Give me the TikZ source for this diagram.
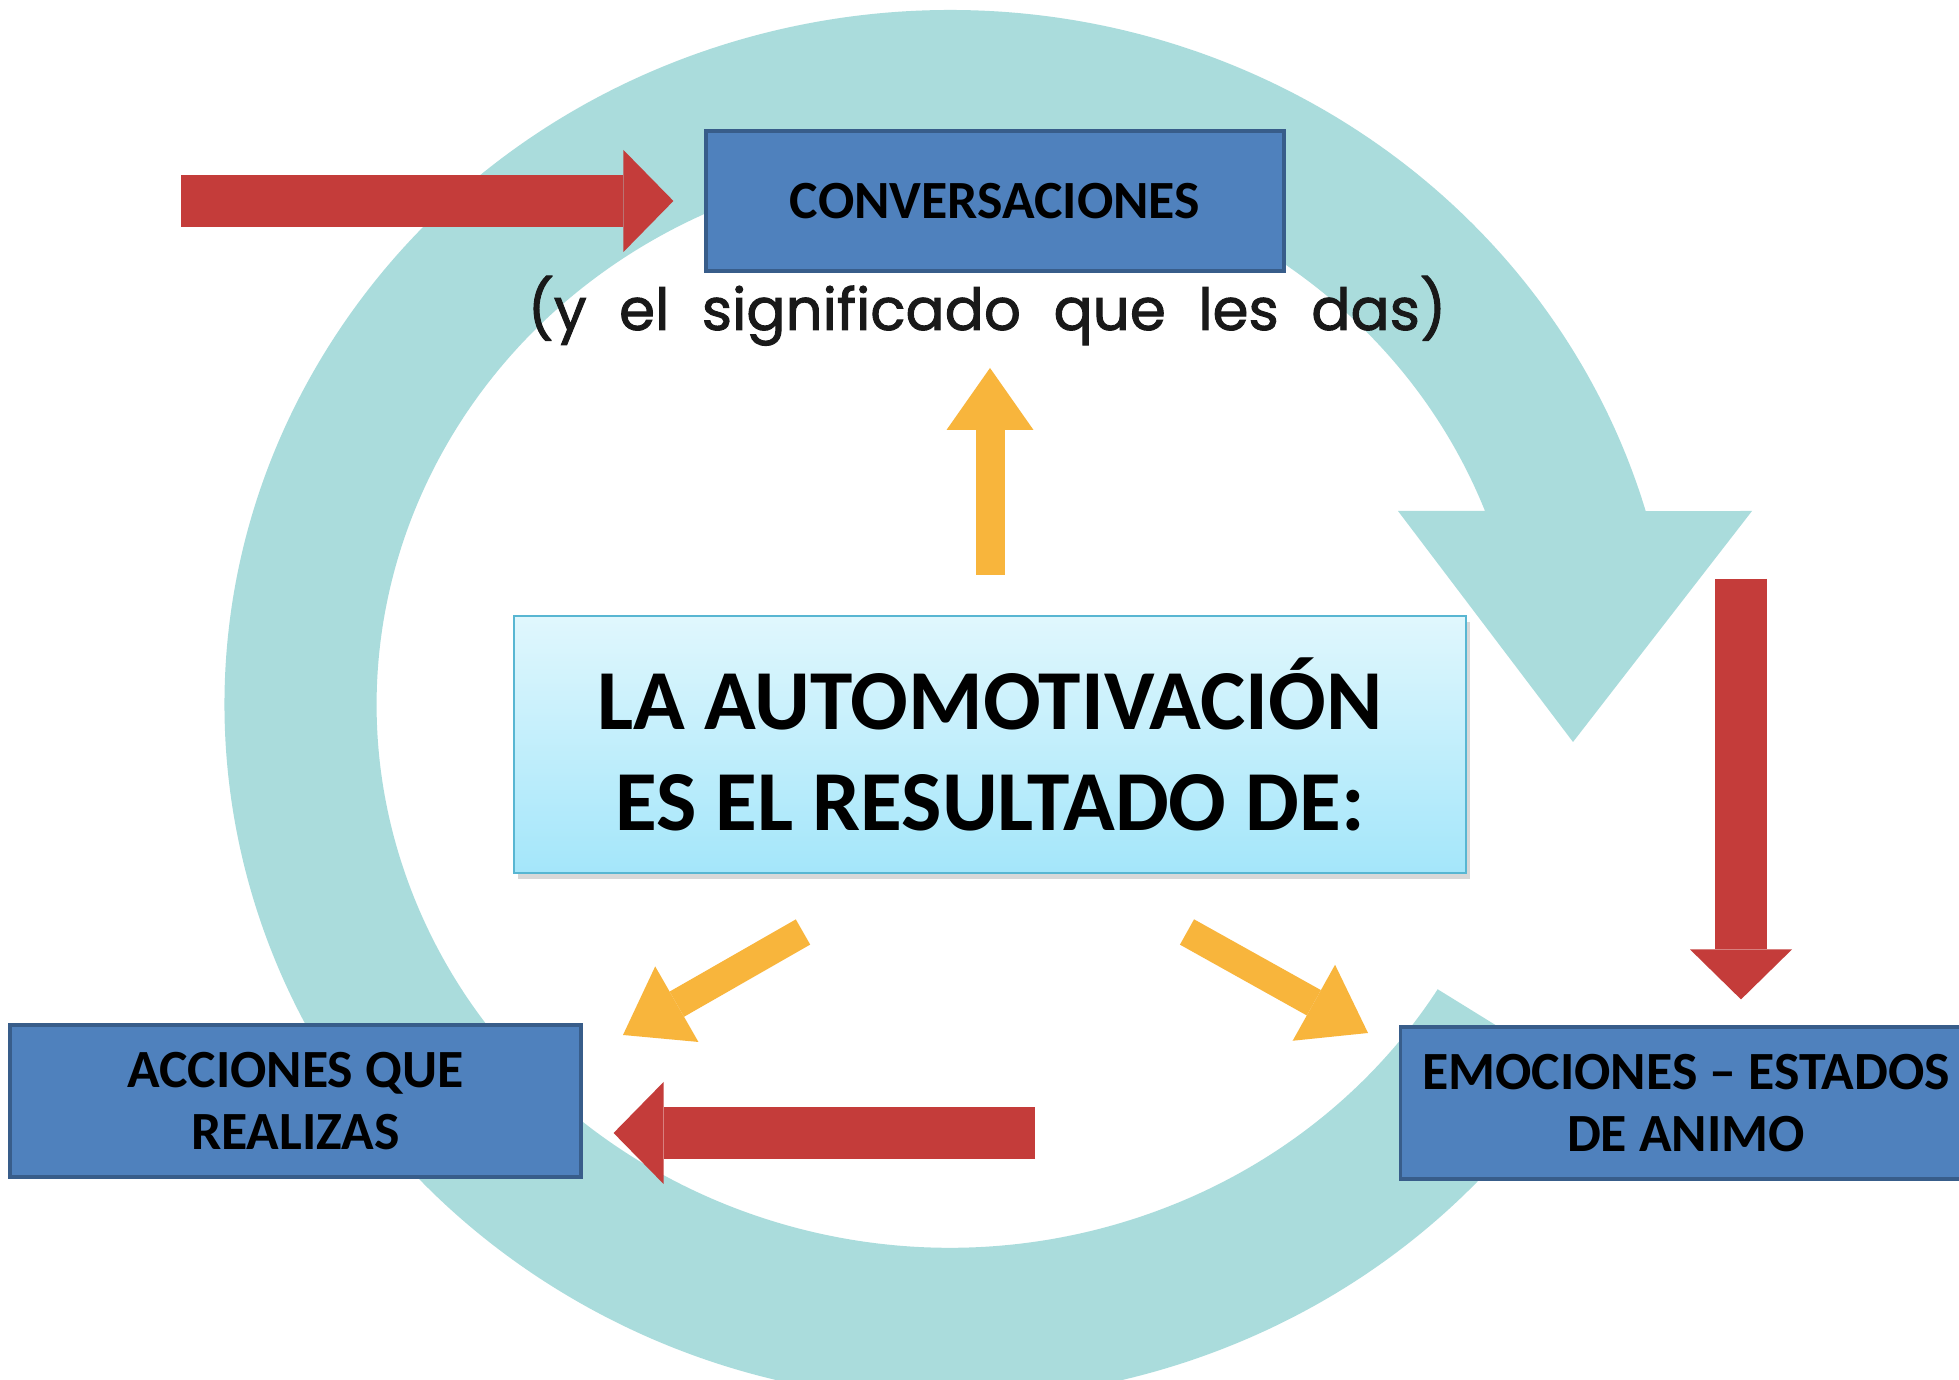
\documentclass[tikz,border=0pt]{standalone}
\usepackage{fontspec}
\setmainfont{Carlito}
\newfontfamily\subfont[WordSpace=2.1,FakeBold=1.6]{Poppins}
\usetikzlibrary{arrows.meta,shadows}

\definecolor{ringteal}{HTML}{AADCDC}
\definecolor{boxblue}{HTML}{4F81BD}
\definecolor{boxline}{HTML}{385D8A}
\definecolor{arrowred}{HTML}{C43C3A}
\definecolor{arroworange}{HTML}{F8B53C}
\definecolor{centretop}{HTML}{E0F7FD}
\definecolor{centrebot}{HTML}{A4E6FA}
\definecolor{centreline}{HTML}{58B6D2}

\begin{document}
\begin{tikzpicture}[
	bluebox/.style={draw=boxline,line width=0.9pt,fill=boxblue,minimum width=5.71cm,minimum height=1.52cm,inner sep=0pt,align=center,font=\fontsize{15.3}{17.6}\selectfont\bfseries},
	centrebox/.style={draw=centreline,line width=0.6pt,top color=centretop,bottom color=centrebot,minimum width=9.52cm,minimum height=2.57cm,inner sep=0pt,align=center,font=\fontsize{24.3}{28.7}\selectfont\bfseries,drop shadow={shadow xshift=0.4mm,shadow yshift=-0.6mm,opacity=0.3}},
	subtitle/.style={text=black!90,inner sep=0pt,font=\subfont\fontsize{16.5}{19}\selectfont},
	redarrow/.style={arrowred,line width=5.2mm,-{Triangle[length=5mm,width=10.2mm,line width=0pt]}},
	orangearrow/.style={arroworange,line width=2.9mm,-{Triangle[length=6.2mm,width=8.7mm,line width=0pt]}}
	]
	
	\clip (0,0) rectangle (19.59,13.80);
	\fill[white] (0,0) rectangle (19.59,13.80);
	
	% circular arrow behind everything
	\fill[ringteal] (14.38,3.905) -- (15.67,3.108)
		arc[start angle=-31.6,end angle=-343.8,x radius=7.25,y radius=6.95]
		-- (17.52,8.69) -- (15.73,6.38) -- (13.98,8.69) -- (14.85,8.69)
		arc[start angle=-339.1,end angle=-31.6,x radius=5.73,y radius=5.43] -- cycle;
	
	\node[bluebox,minimum width=5.78cm,minimum height=1.40cm] (conv) at (9.95,11.79) {CONVERSACIONES};
	\node[subtitle,anchor=base] (sig) at (9.87,10.50) {(y el significado que les das)};
	\node[centrebox] (auto) at (9.90,6.355) {LA AUTOMOTIVACIÓN\\ES EL RESULTADO DE:};
	\node[bluebox] (acc) at (2.955,2.79) {ACCIONES QUE\\REALIZAS};
	\node[bluebox] (emo) at (16.86,2.77) {EMOCIONES – ESTADOS\\DE ANIMO};
	
	\coordinate (uptip)  at (9.90,10.12);
	\coordinate (lltail) at (8.03,4.48);
	\coordinate (lltip)  at (6.23,3.45);
	\coordinate (lrtail) at (11.87,4.48);
	\coordinate (lrtip)  at (13.68,3.47);
	\draw[orangearrow,shorten <=4mm] (auto.north) -- (uptip);
	\draw[orangearrow] (lltail) -- (lltip);
	\draw[orangearrow] (lrtail) -- (lrtip);
	
	\coordinate (convtail) at (1.81,11.79);
	\coordinate (acctail)  at (10.35,2.47);
	\coordinate (emotail)  at (17.41,8.01);
	\draw[redarrow,shorten >=3.1mm] (convtail) -- (conv.west);
	\draw[redarrow,shorten >=3.1mm] (acctail) -- (acc.east |- acctail);
	\draw[redarrow,shorten >=2.6mm] (emotail) -- (emotail |- emo.north);
	
\end{tikzpicture}
\end{document}
